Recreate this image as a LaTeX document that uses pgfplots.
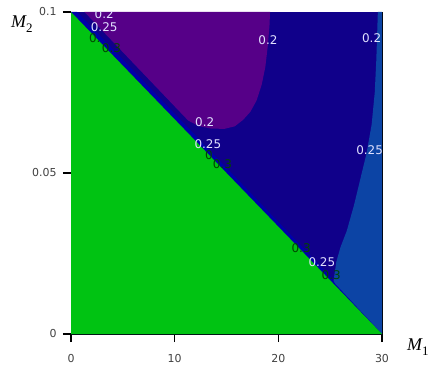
\documentclass[border=0pt]{standalone}
\usepackage{pgfplots}
\pgfplotsset{compat=1.18}
\usepackage{fontspec}
\setmainfont{DejaVu Sans}
\newfontfamily\tms{Liberation Serif}
\definecolor{cgreen}{RGB}{0,195,18}
\definecolor{cpurple}{RGB}{86,0,136}
\definecolor{cdblue}{RGB}{16,0,138}
\definecolor{cband}{RGB}{0,0,170}
\definecolor{cmblue}{RGB}{12,68,165}
\definecolor{clab}{RGB}{225,225,255}
\definecolor{cdgreen}{RGB}{0,70,0}
\begin{document}
\begin{tikzpicture}
\begin{axis}[
  at={(0,0)}, anchor=south west,
  scale only axis, width=311bp, height=322bp,
  xmin=0, xmax=30, ymin=0, ymax=0.1,
  xtick={0,10,20,30}, xticklabels={0,10,20,30},
  ytick={0,0.05,0.1}, yticklabels={0,0.05,0.1},
  tick pos=left, tick align=outside,
  major tick length=8bp,
  every tick/.style={black, line width=1.2bp},
  axis line style={black, line width=0.9bp},
  ticklabel style={font=\fontsize{11}{11}\selectfont, text=black!75},
  xticklabel style={yshift=-9bp},
  yticklabel style={xshift=-3bp},
  /pgf/number format/assume math mode=true,
]
% dark blue background
\addplot[fill=cdblue, draw=none] coordinates {(0,0) (30,0) (30,0.1) (0,0.1)};
% medium blue region (right)
\addplot[fill=cmblue, draw=none] coordinates {
 (29.6,0.1) (29.45,0.085) (29.3,0.075) (29.0,0.065) (28.5,0.056) (27.9,0.048)
 (27.3,0.040) (26.6,0.032) (26.0,0.027) (25.6,0.0225) (25.3,0.016) (24.5,0.012)
 (30,0) (30,0.1)};
% brighter band along diagonal
\addplot[fill=cband, draw=none] coordinates {
 (0,0.1) (0.6,0.1) (25.0,0.0180) (25.5,0.0155) (30,0) (0,0)};
% purple region
\addplot[fill=cpurple, draw=none] coordinates {
 (1.3,0.1) (11.3,0.0663) (12.3,0.0646) (13.5,0.0638) (14.8,0.0637) (15.8,0.0645)
 (16.6,0.0665) (17.3,0.069) (17.9,0.0725) (18.4,0.0775) (18.75,0.083)
 (19.0,0.090) (19.15,0.096) (19.2,0.1)};
% green region
\addplot[fill=cgreen, draw=none] coordinates {(0,0) (0,0.1) (30,0)};
% contour labels
\begin{scope}[every node/.style={font=\fontsize{12}{12}\selectfont, inner sep=0pt}]
\node[text=clab] at (axis cs:3.2,0.0993) {0.2};
\node[text=clab] at (axis cs:3.2,0.0953) {0.25};
\node[text=cdgreen] at (axis cs:2.3,0.0918) {0.};
\node[text=cdgreen] at (axis cs:3.9,0.0888) {0.3};
\node[text=clab] at (axis cs:19.0,0.0913) {0.2};
\node[text=clab] at (axis cs:29.0,0.0919) {0.2};
\node[text=clab] at (axis cs:12.9,0.0657) {0.2};
\node[text=clab] at (axis cs:13.2,0.0590) {0.25};
\node[text=cdgreen] at (axis cs:13.3,0.0556) {0};
\node[text=cdgreen] at (axis cs:14.6,0.0526) {0.3};
\node[text=clab] at (axis cs:28.8,0.0571) {0.25};
\node[text=cdgreen] at (axis cs:22.2,0.0267) {0.3};
\node[text=clab] at (axis cs:24.2,0.0222) {0.25};
\node[text=cdgreen] at (axis cs:25.1,0.0182) {0.3};
\end{scope}
\end{axis}
\node[anchor=base west, inner sep=0pt] at (-60bp,306bp)
  {\tms\fontsize{18}{18}\selectfont\itshape M\raisebox{-5bp}{\upshape\fontsize{13}{13}\selectfont 2}};
\node[anchor=base west, inner sep=0pt] at (336bp,-16bp)
  {\tms\fontsize{18}{18}\selectfont\itshape M\raisebox{-5bp}{\upshape\fontsize{13}{13}\selectfont 1}};
\pgfresetboundingbox
\path[use as bounding box] (-71bp,-31bp) rectangle (359bp,334bp);
\end{tikzpicture}
\end{document}
